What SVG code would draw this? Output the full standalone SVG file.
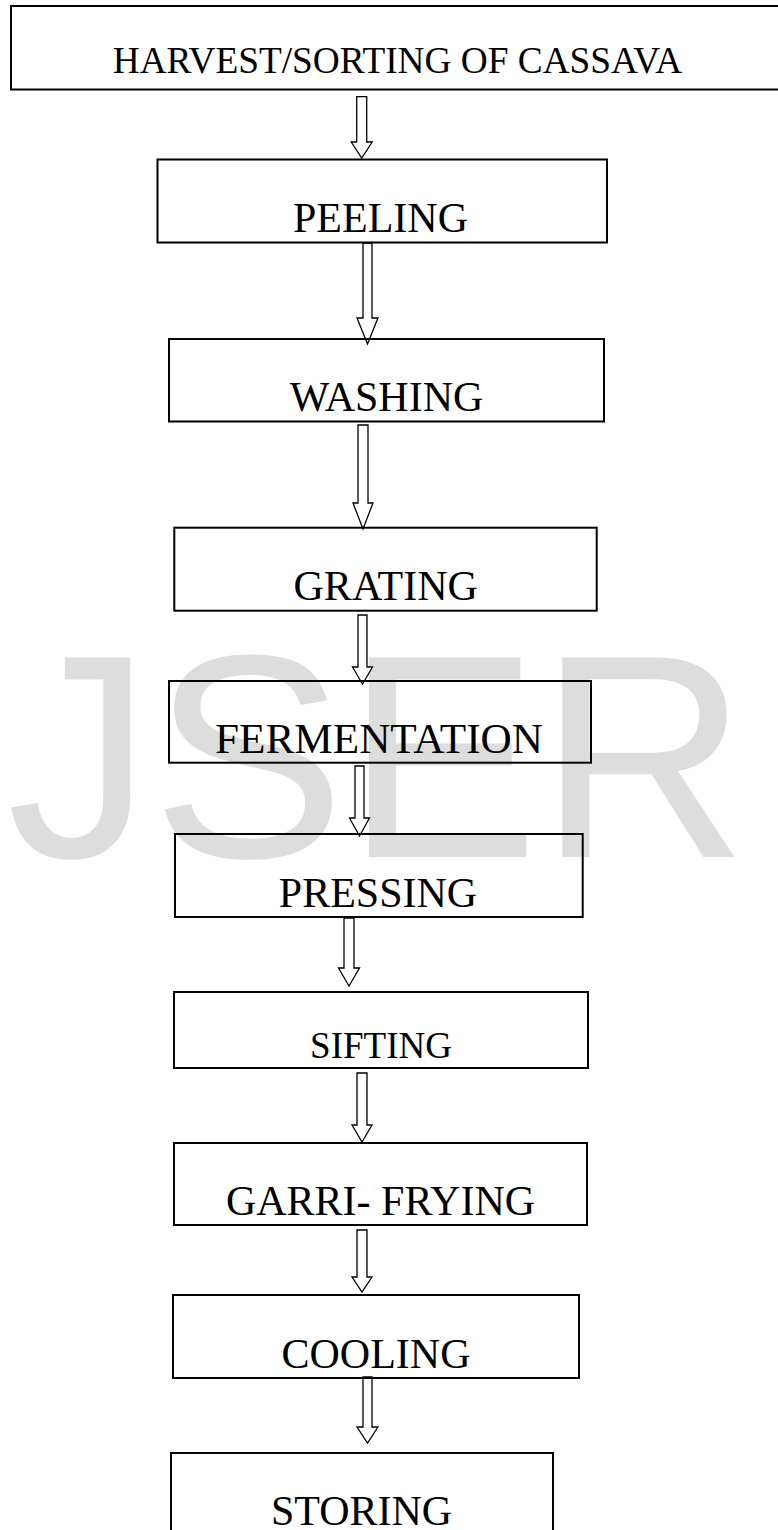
<svg xmlns="http://www.w3.org/2000/svg" width="778" height="1530" viewBox="0 0 778 1530">
<style>
.bg{fill:#ffffff}
.wm{font-family:"Liberation Sans",Arial,sans-serif;font-size:290px;fill:#dddddd}
.box{fill:none;stroke:#000;stroke-width:2}
.lbl{font-family:"Liberation Serif","Times New Roman",serif;font-size:42px;fill:#000;text-anchor:middle}
.arr{fill:#fff;stroke:#000;stroke-width:1.3;stroke-linejoin:miter}
</style>
<rect class="bg" x="0" y="0" width="778" height="1530"/>
<text class="wm" x="6.7" y="857">JSER</text>
<g id="connectors">
<polygon class="arr" points="356.7,96.7 366.7,96.7 366.7,142 372.2,142 361.7,158 351.2,142 356.7,142"/>
<polygon class="arr" points="363,243 372,243 372,318 378,318 367.5,344 357,318 363,318"/>
<polygon class="arr" points="358,425 368,425 368,503 373,503 363,529 353,503 358,503"/>
<polygon class="arr" points="358,615 367,615 367,667 372.5,667 362.5,684 352.5,667 358,667"/>
<polygon class="arr" points="355,766 364,766 364,818 369.5,818 359.5,836 349.5,818 355,818"/>
<polygon class="arr" points="344,918 354,918 354,968 359.5,968 349,986 338.5,968 344,968"/>
<polygon class="arr" points="357,1073 367,1073 367,1125 372,1125 362,1142 352,1125 357,1125"/>
<polygon class="arr" points="357,1230 367,1230 367,1277 372,1277 362,1292 352,1277 357,1277"/>
<polygon class="arr" points="363,1377 372,1377 372,1427 378,1427 367.5,1443 357,1427 363,1427"/>
</g>
<g id="harvest">
<rect class="box" x="11" y="6" width="800" height="83.5"/>
<text class="lbl" x="397.5" y="72.7" style="font-size:37.3px">HARVEST/SORTING OF CASSAVA</text>
</g>
<g id="peeling">
<rect class="box" x="157.5" y="159.5" width="449.5" height="83"/>
<text class="lbl" x="380.5" y="231.7">PEELING</text>
</g>
<g id="washing">
<rect class="box" x="169" y="339" width="435" height="82.5"/>
<text class="lbl" x="386.5" y="410.7">WASHING</text>
</g>
<g id="grating">
<rect class="box" x="174.3" y="527.7" width="422.4" height="83"/>
<text class="lbl" x="385.7" y="600">GRATING</text>
</g>
<g id="fermentation">
<rect class="box" x="169" y="681" width="422" height="81.7"/>
<text class="lbl" x="379" y="753" textLength="328" lengthAdjust="spacingAndGlyphs">FERMENTATION</text>
</g>
<g id="pressing">
<rect class="box" x="175" y="834" width="407.7" height="83"/>
<text class="lbl" x="378" y="907">PRESSING</text>
</g>
<g id="sifting">
<rect class="box" x="174" y="992" width="414" height="76"/>
<text class="lbl" x="381" y="1058" style="font-size:37px">SIFTING</text>
</g>
<g id="garri-frying">
<rect class="box" x="174" y="1143" width="413" height="82"/>
<text class="lbl" x="380.5" y="1215">GARRI- FRYING</text>
</g>
<g id="cooling">
<rect class="box" x="173" y="1295" width="406" height="83"/>
<text class="lbl" x="376" y="1368">COOLING</text>
</g>
<g id="storing">
<rect class="box" x="171" y="1453" width="382" height="120"/>
<text class="lbl" x="361.5" y="1525">STORING</text>
</g>
</svg>
